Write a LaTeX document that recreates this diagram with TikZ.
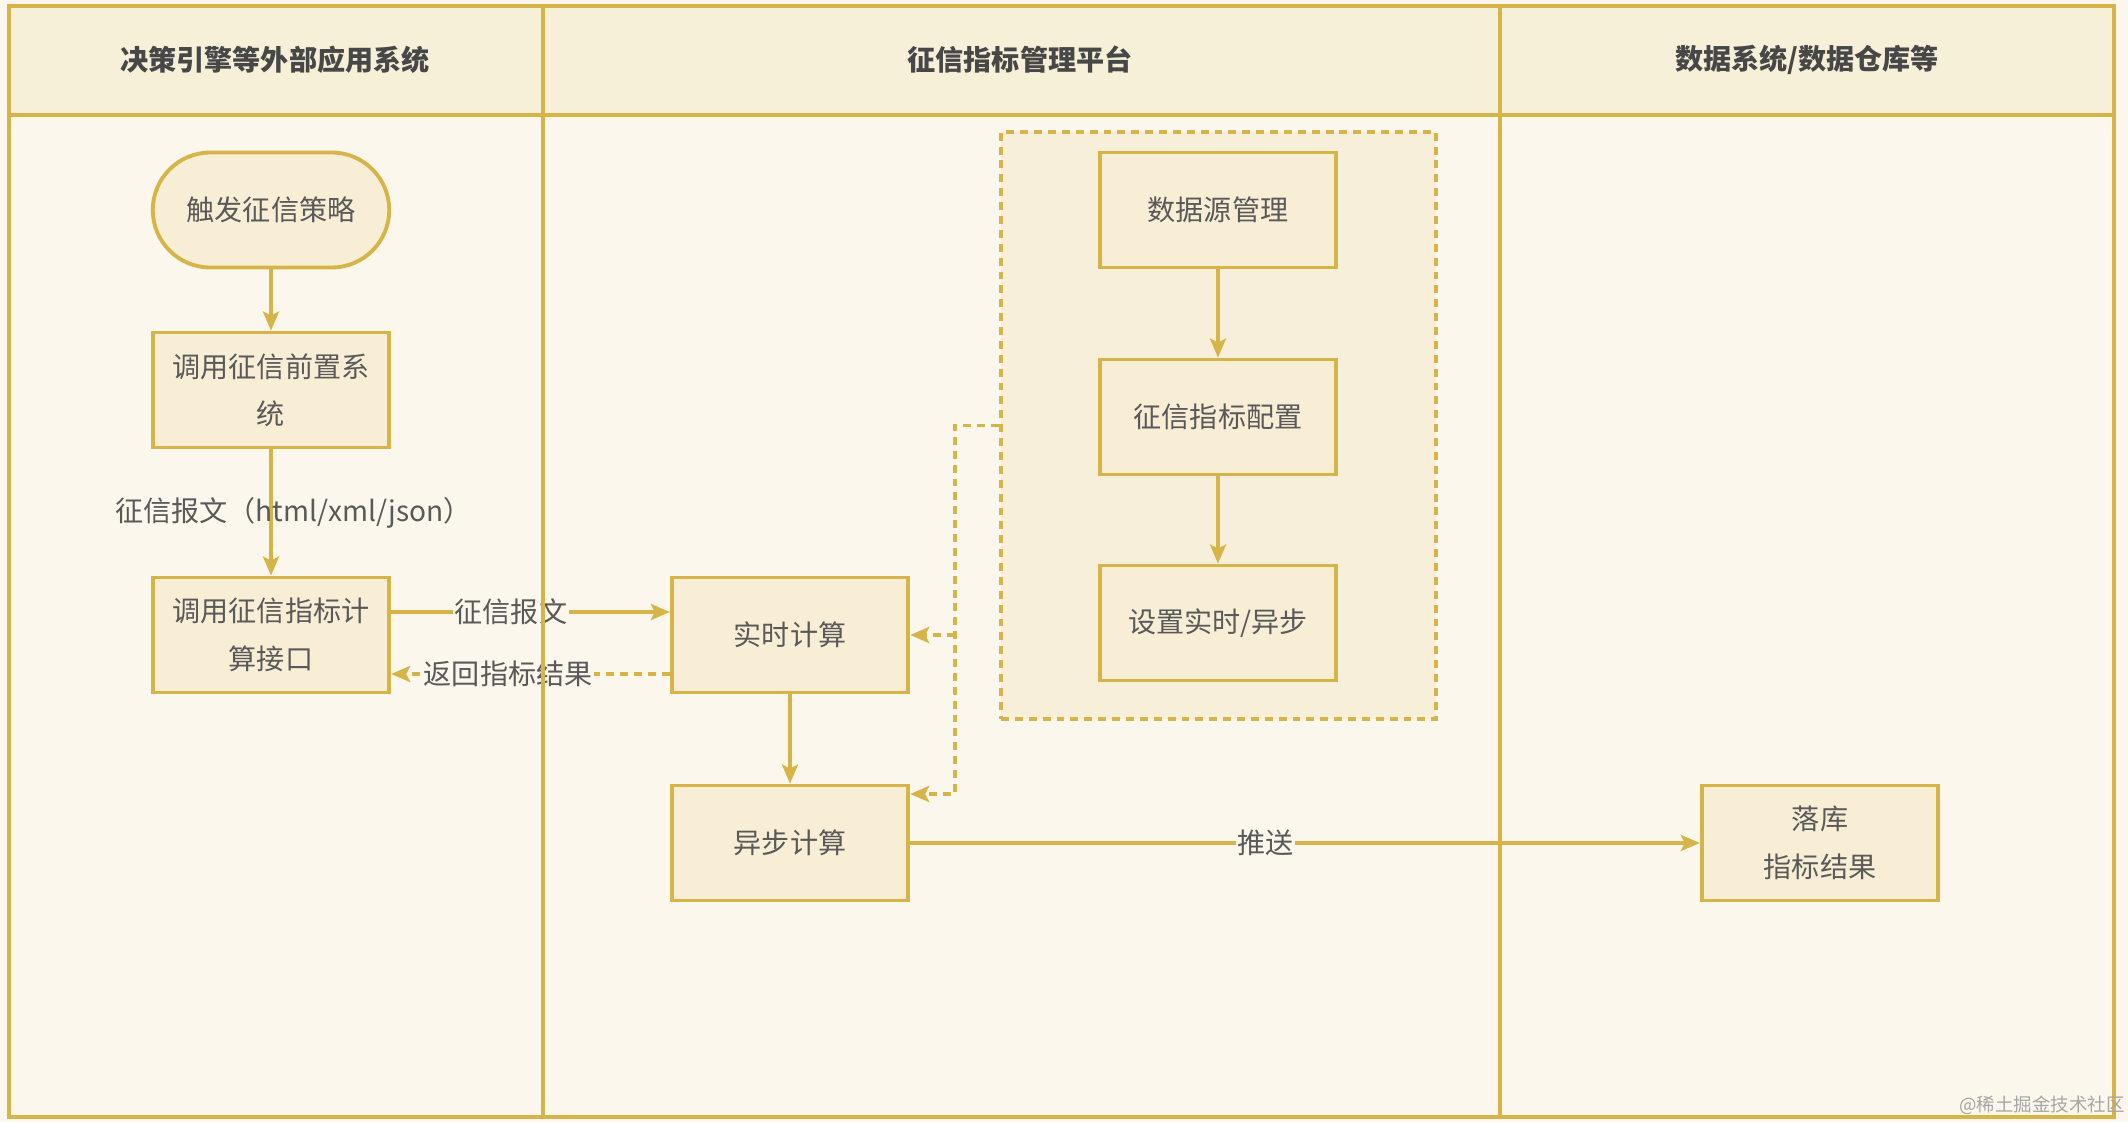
\documentclass[tikz,border=0pt]{standalone}
\usepackage{fontspec}
\setmainfont{Noto Sans CJK SC}
\usepackage{tikz}
\usetikzlibrary{arrows.meta,positioning,calc}
\definecolor{cLine}{HTML}{D6B447}
\definecolor{cBox}{HTML}{F7EED5}
\definecolor{cHead}{HTML}{F7F0D8}
\definecolor{cBg}{HTML}{FBF7EC}
\definecolor{cGroup}{HTML}{F7EFDA}
\definecolor{cText}{HTML}{595959}
\tikzset{
  box/.style={draw=cLine, line width=2.2pt, fill=cBox, text=cText, align=center,
              font=\fontsize{16}{27}\selectfont, minimum width=4.73cm, minimum height=2.3cm, inner sep=2pt},
  term/.style={box, rounded corners=1.15cm},
  grpbox/.style={draw=cLine, line width=2.2pt, fill=cGroup, dash pattern=on 4.5pt off 3.4pt,
              minimum width=8.7cm, minimum height=11.74cm},
  flow/.style={-{Stealth[length=3.8mm, width=3.2mm, inset=0.8mm]}, line width=2.2pt, draw=cLine},
  back/.style={flow, dash pattern=on 4.5pt off 3.4pt},
  lbl/.style={text=cText, font=\fontsize{16}{20}\selectfont, inner sep=1pt},
  head/.style={text=cText!80!black, font=\fontsize{16}{20}\selectfont\bfseries},
  lane/.style={draw=cLine, line width=2.6pt},
}
\begin{document}
\begin{tikzpicture}[x=0.02cm, y=-0.02cm]
\useasboundingbox (0,0) rectangle (2128,1122);
\fill[cBg] (0,0) rectangle (2128,1122);
\fill[cHead] (9,6) rectangle (2114,115);
% lane headers
\node[head] (hExt) at (275,60) {决策引擎等外部应用系统};
\node[head] (hPlat) at (1020,60) {征信指标管理平台};
\node[head] (hData) at (1807,60) {数据系统/数据仓库等};
% config group
\node[grpbox] (grp) at (1218.5,425.5) {};
% nodes
\node[term] (trigger) at (271,210) {触发征信策略};
\node[box] (pre) at (271,390) {调用征信前置系\\统};
\node[box] (api) at (271,635) {调用征信指标计\\算接口};
\node[box] (rt) at (790,635) {实时计算};
\node[box] (async) at (790,843) {异步计算};
\node[box] (src) at (1218,210) {数据源管理};
\node[box] (cfg) at (1218,417) {征信指标配置};
\node[box] (mode) at (1218,623) {设置实时/异步};
\node[box] (store) at (1820,843) {落库\\指标结果};
% connectors
\draw[flow] (trigger) -- (pre);
\draw[flow] (pre) -- node[lbl, xshift=0.45cm] {征信报文（html/xml/json）} (api);
\draw[flow] ([yshift=0.46cm]api.east) -- node[lbl, fill=cBg, pos=0.43] {征信报文} ([yshift=0.46cm]rt.west);
\draw[back] ([yshift=-0.78cm]rt.west) -- node[lbl, fill=cBg, pos=0.58] {返回指标结果} ([yshift=-0.78cm]api.east);
\draw[flow] (rt) -- (async);
\draw[flow] (src) -- (cfg);
\draw[flow] (cfg) -- (mode);
\draw[flow] (async) -- node[lbl, fill=cBg, pos=0.45] {推送} (store);
\coordinate (bend) at (955,794);
\coordinate (split) at (bend |- rt.east);
\draw[back] (grp.west) -| (bend) -- (bend -| async.east);
\draw[back] (split) -- (rt.east);
% lane frame
\draw[lane] (9,6) rectangle (2114,1117);
\draw[lane] (9,115) -- (2114,115);
\draw[lane] (543,6) -- (543,1117);
\draw[lane] (1500,6) -- (1500,1117);
\node[text=black!35, font=\fontsize{10.5}{12}\selectfont] (mark) at (2042,1105) {@稀土掘金技术社区};
\end{tikzpicture}
\end{document}
